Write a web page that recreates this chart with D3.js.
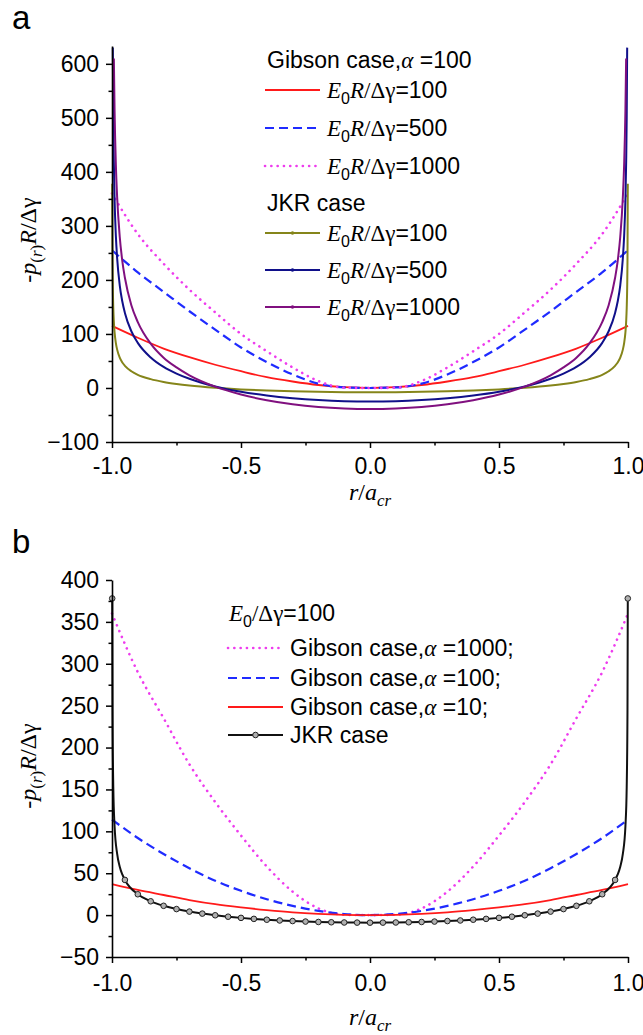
<!DOCTYPE html>
<html><head><meta charset="utf-8">
<script src="https://cdn.jsdelivr.net/npm/d3@7"></script>
<style>body{margin:0;background:#fff}</style>
</head><body>
<svg id="c" width="643" height="1035" xmlns="http://www.w3.org/2000/svg"></svg>
<script>
// ---------------- DATA ----------------
const xMajor = [-1, -0.5, 0, 0.5, 1];
const xLabels = ["-1.0", "-0.5", "0.0", "0.5", "1.0"];
const xMinor = [-0.75, -0.25, 0.25, 0.75];

const yMajorA = [-100, 0, 100, 200, 300, 400, 500, 600];
const yMinorA = [-50, 50, 150, 250, 350, 450, 550];
const yMajorB = [-50, 0, 50, 100, 150, 200, 250, 300, 350, 400];
const yMinorB = [-25, 25, 75, 125, 175, 225, 275, 325, 375];

// Gibson curves (sampled at gibX)
const gibX = [-1, -0.9, -0.8, -0.7, -0.6, -0.5, -0.4, -0.3, -0.2, -0.1, 0, 0.1, 0.2, 0.3, 0.4, 0.5, 0.6, 0.7, 0.8, 0.9, 1];
// panel a : Gibson case, alpha = 100
const gibA100  = [115, 93, 73, 57, 43, 31, 20, 12, 5.5, 1.5, 0, 1.5, 5.5, 12, 20, 31, 43, 57, 73, 93, 115];
const gibA500  = [255, 214, 178, 142, 108, 75, 48, 25, 8, 1, 0, 1, 8, 25, 48, 75, 108, 142, 178, 214, 255];
const gibA1000 = [360, 285, 230, 182, 140, 100, 68, 38, 13, 0.5, 0, 0.5, 13, 38, 68, 100, 140, 182, 230, 285, 360];
// panel b : E0/Δγ = 100
const gibB1000 = [360, 290, 235, 180, 135, 95, 58, 28, 8, 0.5, 0, 0.5, 8, 28, 58, 95, 135, 180, 235, 290, 360];
const gibB100  = [114, 92, 73, 56, 41, 29, 19, 11, 5, 1.3, 0, 1.3, 5, 11, 19, 29, 41, 56, 73, 92, 114];
const gibB10   = [37, 30, 24, 18, 13, 9.2, 6, 3.3, 1.5, 0.4, 0, 0.4, 1.5, 3.3, 6, 9.2, 13, 18, 24, 30, 37];

// panel a : JKR case
const jkr100X = [-0.9992, -0.998, -0.997, -0.995, -0.993, -0.99, -0.985, -0.98, -0.97, -0.96, -0.95, -0.925, -0.9, -0.85, -0.8, -0.75, -0.7, -0.6, -0.5, -0.4, -0.3, -0.2, -0.1, 0,
                 0.1, 0.2, 0.3, 0.4, 0.5, 0.6, 0.7, 0.75, 0.8, 0.85, 0.9, 0.925, 0.95, 0.96, 0.97, 0.98, 0.985, 0.99, 0.993, 0.995, 0.997, 0.998, 0.9992];
const jkr100Y = [378, 236, 192, 148, 124, 103, 83, 71, 56, 47, 41, 31, 24.4, 16.4, 11.2, 7.5, 4.6, 0.4, -2.6, -4.7, -6.2, -7.2, -7.8, -8,
                 -7.8, -7.2, -6.2, -4.7, -2.6, 0.4, 4.6, 7.5, 11.2, 16.4, 24.4, 31, 41, 47, 56, 71, 83, 103, 124, 148, 192, 236, 378];
const jkr500X = [-0.9968, -0.995, -0.993, -0.99, -0.985, -0.98, -0.97, -0.96, -0.95, -0.925, -0.9, -0.85, -0.8, -0.75, -0.7, -0.6, -0.5, -0.4, -0.3, -0.2, -0.1, 0,
                 0.1, 0.2, 0.3, 0.4, 0.5, 0.6, 0.7, 0.75, 0.8, 0.85, 0.9, 0.925, 0.95, 0.96, 0.97, 0.98, 0.985, 0.99, 0.993, 0.995, 0.9968];
const jkr500Y = [630, 501, 421, 349, 281, 240, 190, 160, 139, 105, 83.5, 56.5, 39, 26.7, 17, 2.9, -7, -14, -19, -22.4, -24.4, -25,
                 -24.4, -22.4, -19, -14, -7, 2.9, 17, 26.7, 39, 56.5, 83.5, 105, 139, 160, 190, 240, 281, 349, 421, 501, 630];
const jkr1000X = [-0.9928, -0.99, -0.985, -0.98, -0.97, -0.96, -0.95, -0.925, -0.9, -0.85, -0.8, -0.75, -0.7, -0.6, -0.5, -0.4, -0.3, -0.2, -0.1, 0,
                  0.1, 0.2, 0.3, 0.4, 0.5, 0.6, 0.7, 0.75, 0.8, 0.85, 0.9, 0.925, 0.95, 0.96, 0.97, 0.98, 0.985, 0.99, 0.9928];
const jkr1000Y = [610, 513, 413, 353, 280, 235, 204, 153, 122, 82, 56, 38, 23.4, 2.4, -12.2, -22.7, -30.2, -35.2, -38, -39,
                  -38, -35.2, -30.2, -22.7, -12.2, 2.4, 23.4, 38, 56, 82, 122, 153, 204, 235, 280, 353, 413, 513, 610];

// panel b : JKR case
const jkrBX = [-0.9992, -0.998, -0.995, -0.99, -0.98, -0.97, -0.96, -0.95, -0.9, -0.85, -0.8, -0.75, -0.7, -0.65, -0.6, -0.55, -0.5, -0.45, -0.4, -0.35, -0.3, -0.25, -0.2, -0.15, -0.1, -0.05, 0,
               0.05, 0.1, 0.15, 0.2, 0.25, 0.3, 0.35, 0.4, 0.45, 0.5, 0.55, 0.6, 0.65, 0.7, 0.75, 0.8, 0.85, 0.9, 0.95, 0.96, 0.97, 0.98, 0.99, 0.995, 0.998, 0.9992];
const jkrBY = [378, 244, 153, 106, 73, 57.8, 48.5, 42, 24.9, 16.5, 11.1, 7.2, 4.2, 1.8, -0.2, -1.9, -3.3, -4.5, -5.5, -6.4, -7.1, -7.7, -8.2, -8.55, -8.8, -8.95, -9,
               -8.95, -8.8, -8.55, -8.2, -7.7, -7.1, -6.4, -5.5, -4.5, -3.3, -1.9, -0.2, 1.8, 4.2, 7.2, 11.1, 16.5, 24.9, 42, 48.5, 57.8, 73, 106, 153, 244, 378];

// ---------------- DRAW ----------------
const SANS = "'Liberation Sans', Arial, Helvetica, sans-serif";
const SERIF = "'Liberation Serif', 'Times New Roman', Times, serif";
const svg = d3.select("#c");
svg.append("rect").attr("width", 643).attr("height", 1035).attr("fill", "#fff");

const styles = {
  red:     {stroke: "#ff1a1a", width: 1.8, dash: null},
  blue:    {stroke: "#1f2bff", width: 2.2, dash: "9 5"},
  magenta: {stroke: "#ee3cee", width: 2.6, dash: "0.1 6.2", cap: "round"},
  olive:   {stroke: "#85851a", width: 2.0, dash: null},
  navy:    {stroke: "#10108a", width: 2.0, dash: null},
  purple:  {stroke: "#80107f", width: 2.0, dash: null},
  black:   {stroke: "#111", width: 2.0, dash: null}
};

function applyStyle(sel, st) {
  sel.attr("fill", "none").attr("stroke", st.stroke).attr("stroke-width", st.width)
     .attr("stroke-linecap", st.cap || "butt").attr("stroke-linejoin", "round");
  if (st.dash) sel.attr("stroke-dasharray", st.dash);
  return sel;
}

function makePanel(cfg) {
  const x = d3.scaleLinear().domain([-1, 1]).range([112, 628]);
  const y = d3.scaleLinear().domain(cfg.yDomain).range(cfg.yRange);
  const g = svg.append("g");

  const line = d3.line().x(d => x(d[0])).y(d => y(d[1])).curve(d3.curveMonotoneX);
  cfg.series.forEach(s => {
    const pts = s.x.map((v, i) => [v, s.y[i]]);
    applyStyle(g.append("path").datum(pts).attr("d", line), styles[s.style]);
    if (s.markers) {
      g.selectAll(null).data(pts.filter(p => Math.abs(p[0] * 20 - Math.round(p[0] * 20)) < 1e-6 || Math.abs(p[0]) > 0.999))
        .enter().append("circle")
        .attr("cx", d => x(d[0])).attr("cy", d => y(d[1])).attr("r", 2.8)
        .attr("fill", "#b0b0b0").attr("stroke", "#222").attr("stroke-width", 1);
    }
  });

  // axes
  const fixAxis = (ag) => {
    ag.select(".domain").attr("stroke", "#000").attr("stroke-width", 1.6);
    ag.selectAll(".tick line").attr("stroke", "#000").attr("stroke-width", 1.5);
    ag.selectAll("text").attr("font-family", SANS).attr("font-size", 23).attr("fill", "#000");
  };
  const yAx = g.append("g").attr("transform", "translate(112,0)")
    .call(d3.axisLeft(y).tickValues(cfg.yMajor).tickSize(6).tickSizeOuter(0).tickPadding(7).tickFormat(d3.format("d")));
  fixAxis(yAx);
  const yMin = g.append("g").attr("transform", "translate(112,0)")
    .call(d3.axisLeft(y).tickValues(cfg.yMinor).tickSize(3.5).tickSizeOuter(0).tickFormat(""));
  fixAxis(yMin); yMin.select(".domain").remove();

  const xAx = g.append("g").attr("transform", `translate(0,${cfg.yRange[0]})`)
    .call(d3.axisBottom(x).tickValues(xMajor).tickSize(6).tickSizeOuter(0).tickPadding(cfg.xPad)
      .tickFormat((d, i) => xLabels[i]));
  fixAxis(xAx);
  const xMin = g.append("g").attr("transform", `translate(0,${cfg.yRange[0]})`)
    .call(d3.axisBottom(x).tickValues(xMinor).tickSize(3.5).tickSizeOuter(0).tickFormat(""));
  fixAxis(xMin); xMin.select(".domain").remove();

  // panel letter
  svg.append("text").attr("x", 12).attr("y", cfg.letterY).attr("font-family", SANS)
    .attr("font-size", 33).text(cfg.letter);

  // x title
  const xt = svg.append("text").attr("x", 370).attr("y", cfg.xTitleY).attr("text-anchor", "middle")
    .attr("font-family", SERIF).attr("font-size", 24).attr("font-style", "italic");
  xt.append("tspan").text("r");
  xt.append("tspan").attr("font-style", "normal").text("/");
  xt.append("tspan").text("a");
  xt.append("tspan").attr("font-size", 17).attr("dy", 6).text("cr");

  // y title
  const yt = svg.append("text").attr("transform", `translate(36,${cfg.yTitleC}) rotate(-90)`)
    .attr("text-anchor", "middle").attr("font-family", SERIF).attr("font-size", 24);
  yt.append("tspan").text("-");
  yt.append("tspan").attr("font-style", "italic").text("p");
  yt.append("tspan").attr("font-size", 17).attr("dy", 6).text("(");
  yt.append("tspan").attr("font-size", 17).attr("font-style", "italic").text("r");
  yt.append("tspan").attr("font-size", 17).text(")");
  yt.append("tspan").attr("dy", -6).attr("font-style", "italic").text("R");
  yt.append("tspan").text("/Δγ");

  return {g, x, y};
}

function eLabel(parent, x, yBase, withR, value) {
  const t = parent.append("text").attr("x", x).attr("y", yBase).attr("font-size", 23);
  t.append("tspan").attr("font-family", SERIF).attr("font-style", "italic").text("E");
  t.append("tspan").attr("font-family", SANS).attr("font-size", 16).attr("dy", 6).text("0");
  if (withR) {
    t.append("tspan").attr("font-family", SERIF).attr("font-style", "italic").attr("dy", -6).text("R");
    t.append("tspan").attr("font-family", SERIF).text("/Δγ");
  } else {
    t.append("tspan").attr("font-family", SERIF).attr("dy", -6).text("/Δγ");
  }
  t.append("tspan").attr("font-family", SANS).text("=" + value);
  return t;
}

function gibsonText(parent, x, yBase, value) {
  const t = parent.append("text").attr("x", x).attr("y", yBase).attr("font-size", 23).attr("font-family", SANS);
  t.append("tspan").text("Gibson case,");
  t.append("tspan").attr("font-family", SERIF).attr("font-style", "italic").text("α");
  t.append("tspan").text(" =" + value);
  return t;
}

function legendLine(parent, x1, x2, yc, style, marker) {
  applyStyle(parent.append("line").attr("x1", x1).attr("x2", x2).attr("y1", yc).attr("y2", yc), styles[style]);
  if (marker === "dot") parent.append("circle").attr("cx", (x1 + x2) / 2).attr("cy", yc).attr("r", 1.8).attr("fill", styles[style].stroke);
  if (marker === "circle") parent.append("circle").attr("cx", (x1 + x2) / 2).attr("cy", yc).attr("r", 2.8)
    .attr("fill", "#b0b0b0").attr("stroke", "#222").attr("stroke-width", 1);
}

// ---- panel a ----
const A = makePanel({
  yDomain: [-100, 633], yRange: [442, 46], yMajor: yMajorA, yMinor: yMinorA, xPad: 10,
  letter: "a", letterY: 29, xTitleY: 500, yTitleC: 240,
  series: [
    {x: gibX, y: gibA100, style: "red"},
    {x: gibX, y: gibA500, style: "blue"},
    {x: gibX, y: gibA1000, style: "magenta"},
    {x: jkr100X, y: jkr100Y, style: "olive"},
    {x: jkr500X, y: jkr500Y, style: "navy"},
    {x: jkr1000X, y: jkr1000Y, style: "purple"}
  ]
});
const legA = svg.append("g");
gibsonText(legA, 267, 68, "100");
legendLine(legA, 265, 320, 90, "red"); eLabel(legA, 327, 98, true, "100");
legendLine(legA, 265, 320, 128, "blue"); eLabel(legA, 327, 136, true, "500");
legendLine(legA, 265, 320, 166, "magenta"); eLabel(legA, 327, 174, true, "1000");
legA.append("text").attr("x", 267).attr("y", 211).attr("font-family", SANS).attr("font-size", 23).text("JKR case");
legendLine(legA, 265, 320, 233, "olive", "dot"); eLabel(legA, 327, 241, true, "100");
legendLine(legA, 265, 320, 270, "navy", "dot"); eLabel(legA, 327, 278, true, "500");
legendLine(legA, 265, 320, 307, "purple", "dot"); eLabel(legA, 327, 315, true, "1000");

// ---- panel b ----
const B = makePanel({
  yDomain: [-50, 400], yRange: [957, 580], yMajor: yMajorB, yMinor: yMinorB, xPad: 12,
  letter: "b", letterY: 553, xTitleY: 1025, yTitleC: 766,
  series: [
    {x: gibX, y: gibB1000, style: "magenta"},
    {x: gibX, y: gibB100, style: "blue"},
    {x: gibX, y: gibB10, style: "red"},
    {x: jkrBX, y: jkrBY, style: "black", markers: true}
  ]
});
const legB = svg.append("g");
eLabel(legB, 229, 621, false, "100");
legendLine(legB, 228, 283, 648, "magenta"); gibsonText(legB, 290, 656, "1000;");
legendLine(legB, 228, 283, 678, "blue"); gibsonText(legB, 290, 686, "100;");
legendLine(legB, 228, 283, 707, "red"); gibsonText(legB, 290, 715, "10;");
legendLine(legB, 228, 283, 735, "black", "circle");
legB.append("text").attr("x", 290).attr("y", 743).attr("font-family", SANS).attr("font-size", 23).text("JKR case");
</script>
</body></html>
